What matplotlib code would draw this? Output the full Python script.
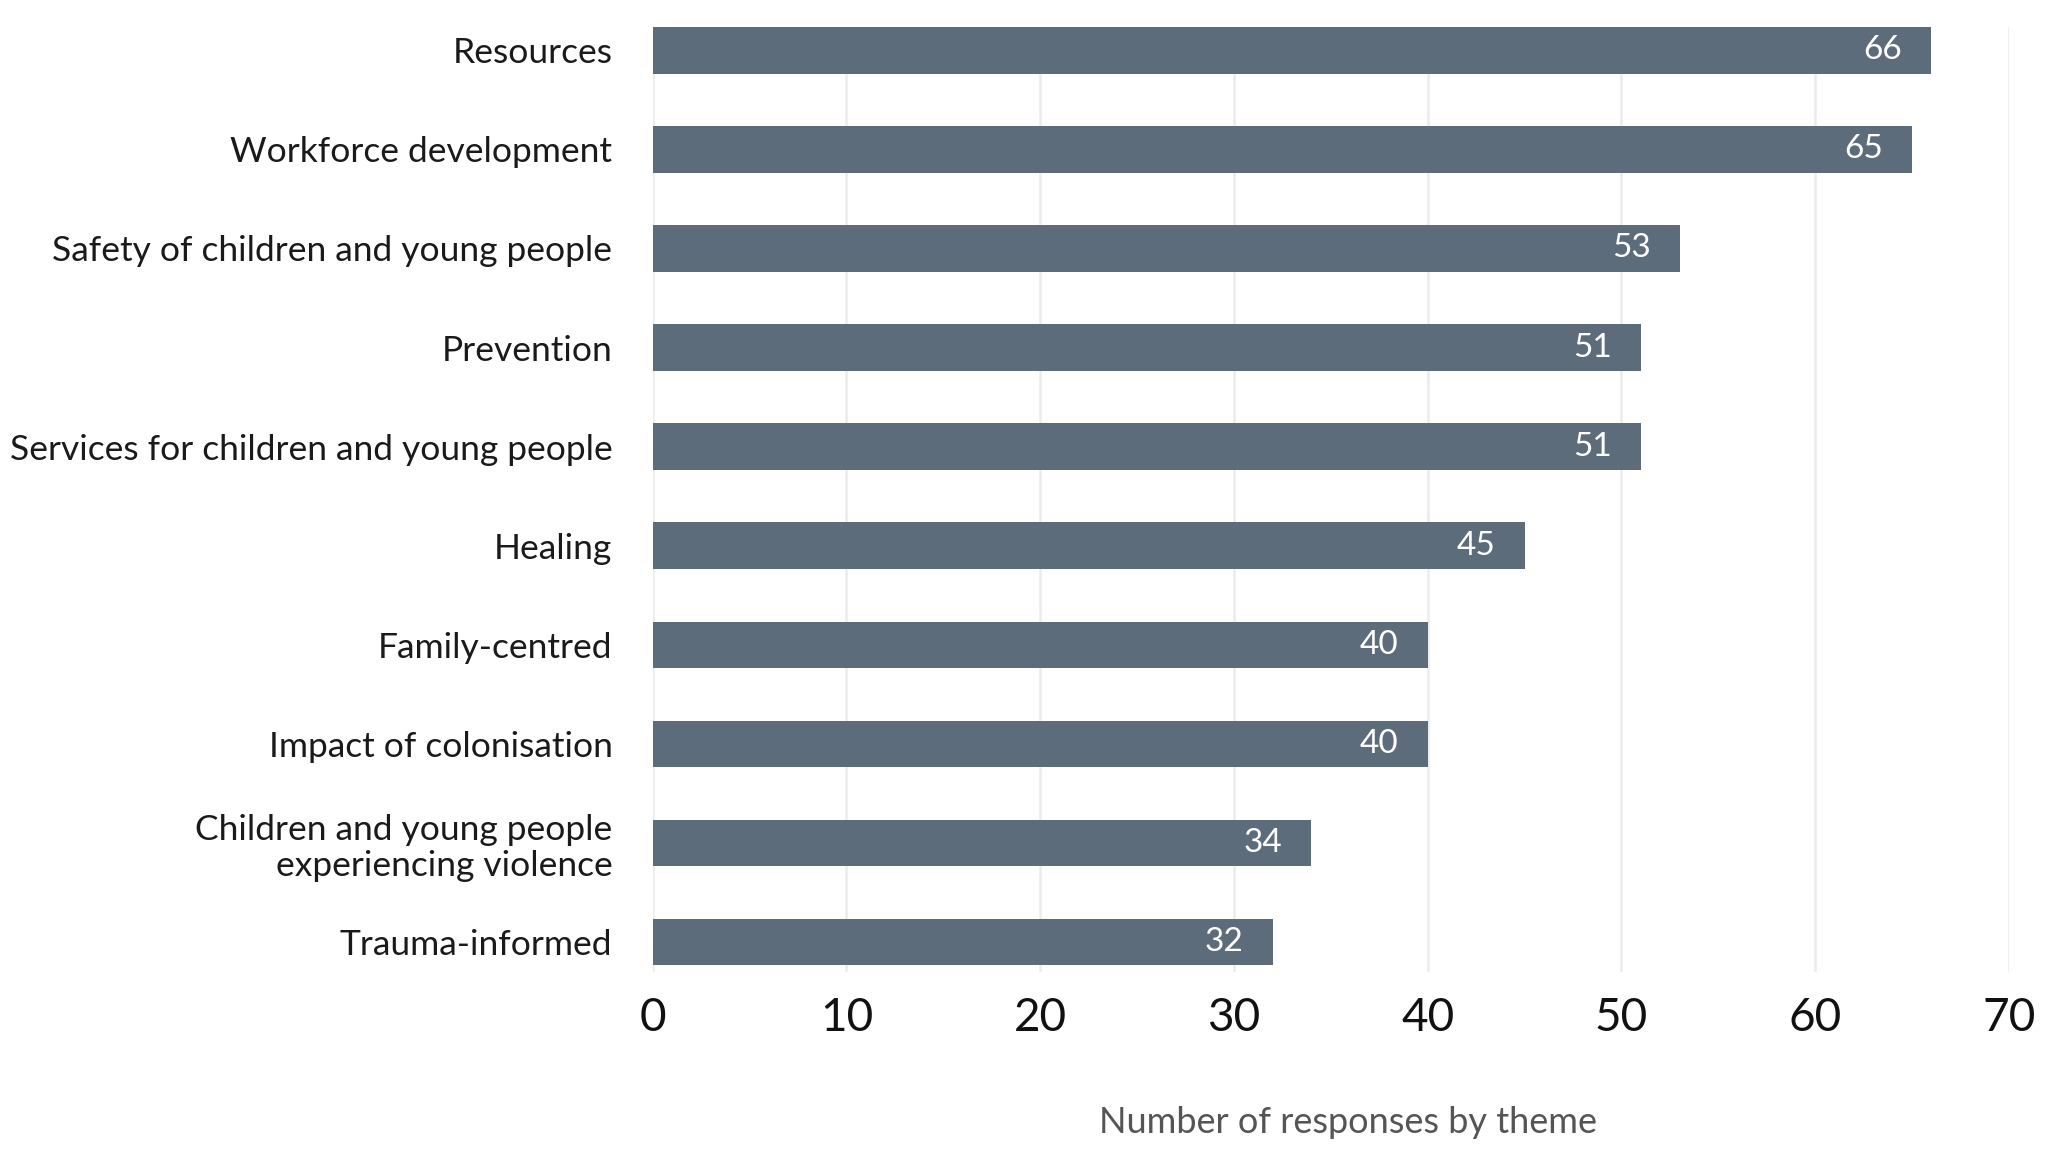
import matplotlib.pyplot as plt

themes = [
    "Resources",
    "Workforce development",
    "Safety of children and young people",
    "Prevention",
    "Services for children and young people",
    "Healing",
    "Family-centred",
    "Impact of colonisation",
    "Children and young people\nexperiencing violence",
    "Trauma-informed",
]
responses = [66, 65, 53, 51, 51, 45, 40, 40, 34, 32]
xticks = [0, 10, 20, 30, 40, 50, 60, 70]

bar_color = "#5d6c7a"

fig = plt.figure(figsize=(20.59, 11.5), dpi=100)
ax = fig.add_axes([0.317, 0.155, 0.6587, 0.8215])

pos = list(range(len(themes)))
ax.barh(pos, responses, height=0.47, color=bar_color, zorder=3)

for y, v in zip(pos, responses):
    ax.text(v - 1.5, y, str(v), ha="right", va="center", color="white",
            fontsize=24, family="Lato", zorder=4)

ax.set_yticks(pos)
ax.set_yticklabels(themes, fontsize=25.5, family="Lato",
                   color="#1a1a1a", ha="right", linespacing=1.15)
ax.set_ylim(9.3, -0.235)
ax.set_xlim(0, 70)
ax.set_xticks(xticks)
ax.set_xticklabels([str(t) for t in xticks], fontsize=33, family="Lato",
                   color="#111111")

ax.tick_params(axis="both", length=0)
ax.tick_params(axis="y", pad=29)
ax.tick_params(axis="x", pad=18)
for s in ax.spines.values():
    s.set_visible(False)

ax.grid(axis="x", color="#ececec", linewidth=1.8, zorder=0)
ax.set_axisbelow(True)

ax.set_xlabel("Number of responses by theme", fontsize=26, family="Lato",
              color="#555555")
ax.xaxis.set_label_coords(0.513, -0.142)

fig.savefig("out.png", dpi=100, facecolor="white")
